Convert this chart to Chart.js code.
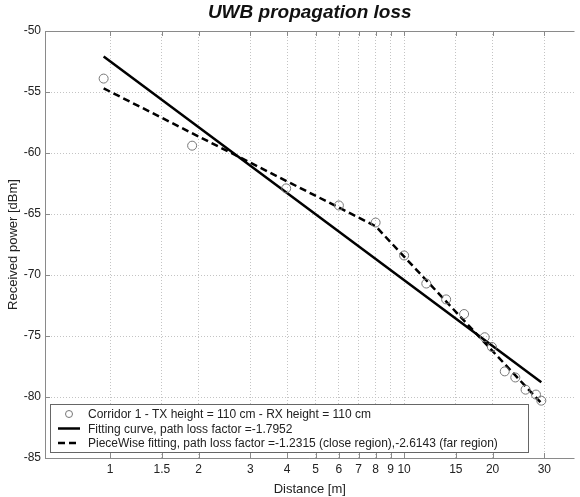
<!DOCTYPE html>
<html>
<head>
<meta charset="utf-8">
<script src="https://cdn.jsdelivr.net/npm/chart.js@4/dist/chart.umd.min.js"></script>
<style>
html,body{margin:0;padding:0;background:#fff;}
#wrap{width:580px;height:497px;position:relative;}
</style>
</head>
<body>
<div id="wrap"><canvas id="c" width="580" height="497"></canvas></div>
<script>
// ---- data ----
const measDist = [0.95, 1.9, 3.97, 6.0, 8.0, 10.0, 11.9, 13.9, 16.0, 18.8, 19.9, 22.0, 23.9, 25.9, 28.1, 29.3];
const measPower = [-53.9, -59.4, -62.9, -64.3, -65.7, -68.4, -70.7, -72.0, -73.2, -75.1, -75.9, -77.9, -78.4, -79.4, -79.8, -80.3];
const fitDist = [0.95, 29.3];
const fitPower = [-52.1, -78.8];
const pwDist = [0.95, 8.0, 29.3];
const pwPower = [-54.7, -66.0, -80.5];
const xTicks = [1, 1.5, 2, 3, 4, 5, 6, 7, 8, 9, 10, 15, 20, 30];
const yTicks = [-85, -80, -75, -70, -65, -60, -55, -50];
const labels = [
  'Corridor 1 - TX height = 110 cm - RX height = 110 cm',
  'Fitting curve, path loss factor =-1.7952',
  'PieceWise fitting, path loss factor =-1.2315 (close region),-2.6143 (far region)'
];
const titleText = 'UWB propagation loss';
const xTitle = 'Distance [m]';
const yTitle = 'Received power [dBm]';

const pts = (xs, ys) => xs.map((x, i) => ({x: x, y: ys[i]}));
const FONT = "'Liberation Sans', Arial, sans-serif";
const TXT = '#222';

const framePlugin = {
  id: 'frame',
  afterDraw(chart) {
    const {ctx, chartArea: a, scales: {x, y}} = chart;
    ctx.save();
    ctx.strokeStyle = '#8a8a8a';
    ctx.lineWidth = 1;
    ctx.setLineDash([]);
    ctx.beginPath();
    ctx.moveTo(a.left + 0.5, a.top + 0.5); ctx.lineTo(a.right, a.top + 0.5);
    ctx.moveTo(a.left + 0.5, a.top); ctx.lineTo(a.left + 0.5, a.bottom + 0.5);
    ctx.moveTo(a.left, a.bottom + 0.5); ctx.lineTo(a.right, a.bottom + 0.5);
    ctx.stroke();
    // inside tick marks
    ctx.beginPath();
    xTicks.forEach(v => {
      const px = Math.round(x.getPixelForValue(v)) + 0.5;
      ctx.moveTo(px, a.bottom); ctx.lineTo(px, a.bottom - 5);
      ctx.moveTo(px, a.top); ctx.lineTo(px, a.top + 5);
    });
    yTicks.forEach(v => {
      const py = Math.round(y.getPixelForValue(v)) + 0.5;
      ctx.moveTo(a.left, py); ctx.lineTo(a.left + 5, py);
    });
    ctx.stroke();
    // title centred over plot area
    ctx.fillStyle = '#111';
    ctx.font = "italic bold 19px " + FONT;
    ctx.textAlign = 'center';
    ctx.textBaseline = 'middle';
    ctx.fillText(titleText, (a.left + a.right) / 2, 13);
    // legend
    const lx = 50, ly = 404, lw = 478, lh = 48;
    ctx.fillStyle = '#fff';
    ctx.fillRect(lx, ly, lw, lh);
    ctx.strokeStyle = '#666';
    ctx.strokeRect(lx + 0.5, ly + 0.5, lw, lh);
    ctx.font = "12px " + FONT;
    ctx.textAlign = 'left';
    ctx.fillStyle = TXT;
    const rows = [ly + 10, ly + 24.5, ly + 39];
    chart.data.datasets.forEach((ds, i) => {
      const ry = rows[i];
      ctx.save();
      if (i === 0) {
        ctx.strokeStyle = ds.borderColor; ctx.lineWidth = 1;
        ctx.beginPath(); ctx.arc(69, ry, 3.5, 0, Math.PI * 2); ctx.stroke();
      } else {
        ctx.strokeStyle = '#000'; ctx.lineWidth = 2.5;
        ctx.setLineDash(ds.borderDash || []);
        ctx.beginPath(); ctx.moveTo(58, ry); ctx.lineTo(80, ry); ctx.stroke();
      }
      ctx.restore();
      ctx.fillText(ds.label, 88, ry + 1);
    });
    ctx.restore();
  }
};

new Chart(document.getElementById('c'), {
  type: 'scatter',
  data: {
    datasets: [
      {label: labels[0], data: pts(measDist, measPower), showLine: false,
       pointRadius: 4.5, pointBorderWidth: 1, borderColor: '#777', backgroundColor: 'rgba(255,255,255,0)', pointBackgroundColor: 'rgba(255,255,255,0)', order: 0},
      {label: labels[1], data: pts(fitDist, fitPower), showLine: true, pointRadius: 0,
       borderColor: '#000', borderWidth: 2.5, order: 1},
      {label: labels[2], data: pts(pwDist, pwPower), showLine: true, pointRadius: 0,
       borderColor: '#000', borderWidth: 2.5, borderDash: [7, 4], order: 2}
    ]
  },
  options: {
    responsive: false,
    animation: false,
    layout: {padding: {top: 31, right: 0, left: 0, bottom: 0}},
    plugins: {legend: {display: false}, title: {display: false}, tooltip: {enabled: false}},
    scales: {
      x: {
        type: 'logarithmic', min: 0.632, max: 38,
        afterBuildTicks: s => { s.ticks = xTicks.map(v => ({value: v})); },
        afterFit: s => { s.height = 39; },
        ticks: {callback: v => String(v), color: TXT, font: {family: FONT, size: 12}, padding: 4, maxRotation: 0, autoSkip: false},
        grid: {color: '#c4c4c4', drawTicks: false, lineWidth: 1},
        border: {display: false, dash: [1, 2]},
        title: {display: true, text: xTitle, color: TXT, font: {family: FONT, size: 13}, padding: {top: 2, bottom: 0}}
      },
      y: {
        min: -85, max: -50,
        afterBuildTicks: s => { s.ticks = yTicks.map(v => ({value: v})); },
        afterFit: s => { s.width = 45; },
        ticks: {color: TXT, font: {family: FONT, size: 12}, padding: 4},
        grid: {color: '#c4c4c4', drawTicks: false, lineWidth: 1},
        border: {display: false, dash: [1, 2]},
        title: {display: true, text: yTitle, color: TXT, font: {family: FONT, size: 13}, padding: {top: 6, bottom: 4}}
      }
    }
  },
  plugins: [framePlugin]
});
</script>
</body>
</html>
